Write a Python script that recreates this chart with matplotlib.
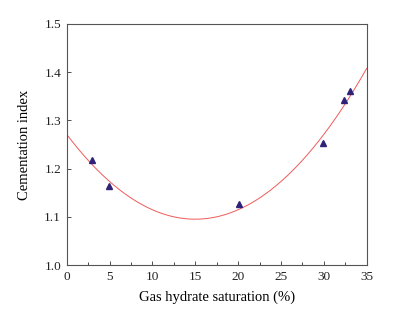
import numpy as np
import matplotlib.pyplot as plt

plt.rcParams["font.family"] = "Liberation Serif"

# measured points
saturation = [3.0, 4.9, 20.1, 29.9, 32.4, 33.1]
cementation = [1.218, 1.164, 1.127, 1.253, 1.342, 1.360]

# quadratic trend: y = c0 + c1*x + c2*x^2
c0, c1, c2 = 1.271, -0.02346, 0.000782

fig = plt.figure(figsize=(3.93, 3.12), dpi=100)
ax = fig.add_axes([66.7 / 393, 1 - 265 / 312, 300 / 393, 241 / 312])

xs = np.linspace(0, 35, 200)
ax.plot(xs, c0 + c1 * xs + c2 * xs ** 2, color="#f05a5a", lw=0.7)
ax.plot(saturation, cementation, ls="none", marker="^", ms=5,
        color="#2e2378", mec="#2e2378")

ax.set_xlim(0, 35)
ax.set_ylim(1.0, 1.5)
ax.set_xticks(np.arange(0, 36, 5))
ax.set_xticks(np.arange(0, 35, 2.5), minor=True)
ax.set_yticks(np.arange(1.0, 1.51, 0.1))
ax.set_yticklabels(["1.0", "1.1", "1.2", "1.3", "1.4", "1.5"])
ax.tick_params(direction="in", length=3, width=0.6, labelsize=9.5,
               colors="#333333", labelcolor="#222222", pad=4)
ax.tick_params(which="minor", direction="in", length=2, width=0.5)
for s in ax.spines.values():
    s.set_color("#555555")
    s.set_linewidth(0.8)

ax.set_xlabel("Gas hydrate saturation (%)", fontsize=10.5)
ax.set_ylabel("Cementation index", fontsize=10.5)
ax.xaxis.set_label_coords(0.5, (265 - 297) / 241, transform=ax.transAxes)
ax.yaxis.set_label_coords((25 - 66.7) / 300, 0.5, transform=ax.transAxes)
ax.xaxis.label.set_va("center")
ax.yaxis.label.set_va("center")

fig.savefig("out.png", dpi=100)
